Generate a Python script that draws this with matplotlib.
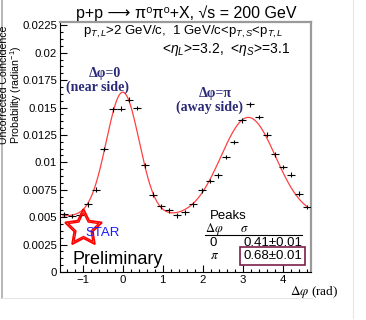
import numpy as np
import matplotlib
matplotlib.use("Agg")
import matplotlib.pyplot as plt
from matplotlib.ticker import AutoMinorLocator, FixedLocator, FixedFormatter

plt.rcParams["font.family"] = ["Liberation Sans", "DejaVu Sans"]
plt.rcParams["mathtext.fontset"] = "custom"
plt.rcParams["mathtext.rm"] = "Liberation Sans"
plt.rcParams["mathtext.it"] = "Liberation Sans:italic"

# measured points (bin centres in rad, coincidence probability)
dphi = [-1.47, -1.27, -1.06, -0.86, -0.66, -0.46, -0.25, -0.05, 0.15, 0.35,
        0.56, 0.76, 0.96, 1.17, 1.37, 1.57, 1.77, 1.98, 2.18, 2.38,
        2.58, 2.79, 2.99, 3.19, 3.40, 3.60, 3.80, 4.00, 4.21, 4.41, 4.61]
prob = [0.00526, 0.00511, 0.00517, 0.00617, 0.00752, 0.01122, 0.01484, 0.01490,
        0.01572, 0.01496, 0.00973, 0.00706, 0.00599, 0.00563, 0.00517, 0.00543,
        0.00617, 0.00745, 0.00830, 0.00882, 0.01049, 0.01186, 0.01384, 0.01530,
        0.01414, 0.01253, 0.01074, 0.00958, 0.00888, 0.00715, 0.00593]
prob_err = [0.00022] * len(prob)
bin_half = 0.1

# fit parameters: constant + gaussian at 0 + gaussian at pi
fit_const = 0.0051
near_amp, near_mu, near_sigma = 0.0113, 0.0, 0.41
away_amp, away_mu, away_sigma = 0.0090, np.pi, 0.68

yticks = [0, 0.0025, 0.005, 0.0075, 0.01, 0.0125, 0.015, 0.0175, 0.02, 0.0225]
ytick_labels = ["0", "0.0025", "0.005", "0.0075", "0.01", "0.0125", "0.015",
                "0.0175", "0.02", "0.0225"]
xticks = [-1, 0, 1, 2, 3, 4]
xtick_labels = ["\u22121", "0", "1", "2", "3", "4"]

W, H = 366, 320
fig = plt.figure(figsize=(W / 100, H / 100), dpi=100)
ax = fig.add_axes([60 / W, 1 - 272 / H, 251 / W, 250 / H])

xf = np.linspace(-1.5, 4.62, 400)
fit = (fit_const
       + near_amp * np.exp(-(xf - near_mu) ** 2 / (2 * near_sigma ** 2))
       + away_amp * np.exp(-(xf - away_mu) ** 2 / (2 * away_sigma ** 2)))
ax.plot(xf, fit, color="#ff4040", lw=0.9, zorder=2)

ax.errorbar(dphi, prob, xerr=bin_half, yerr=prob_err, fmt="none",
            ecolor="black", elinewidth=0.8, capsize=0, zorder=3)

ax.set_xlim(-np.pi / 2, 3 * np.pi / 2)
ax.set_ylim(0, 0.0228)
ax.xaxis.set_major_locator(FixedLocator(xticks))
ax.xaxis.set_major_formatter(FixedFormatter(xtick_labels))
ax.yaxis.set_major_locator(FixedLocator(yticks))
ax.yaxis.set_major_formatter(FixedFormatter(ytick_labels))
ax.xaxis.set_minor_locator(AutoMinorLocator(5))
ax.yaxis.set_minor_locator(AutoMinorLocator(4))
ax.tick_params(which="both", direction="in", labelsize=8.2, width=0.8)
ax.tick_params(which="major", length=5, pad=2)
ax.tick_params(which="minor", length=2.5)
for side in ["top", "right"]:
    ax.spines[side].set_color("#9a9a9a")
    ax.spines[side].set_linewidth(1.6)
for side in ["left", "bottom"]:
    ax.spines[side].set_linewidth(0.8)

# titles and labels
fig.text(186 / W, 1 - 13 / H, "p+p \u27f6 \u03c0\u2070\u03c0\u2070+X, \u221as = 200 GeV",
         ha="center", va="center", fontsize=11.5)
fig.text(183 / W, 1 - 32 / H,
         r"p$_{T,L}$>2 GeV/c,  1 GeV/c<p$_{T,S}$<p$_{T,L}$",
         ha="center", va="center", fontsize=9.5)
fig.text(290 / W, 1 - 50 / H, r"<$\eta_L$>=3.2,  <$\eta_S$>=3.1",
         ha="right", va="center", fontsize=10)

navy = "#2a2a78"
serif = ["Liberation Serif", "DejaVu Serif"]
fig.text(105 / W, 1 - 73 / H, "\u0394\u03c6=0", ha="center", va="center",
         fontsize=10, fontweight="bold", family=serif, color=navy)
fig.text(97 / W, 1 - 87 / H, "(near side)", ha="center", va="center",
         fontsize=10, fontweight="bold", family=serif, color=navy)
fig.text(215 / W, 1 - 93 / H, "\u0394\u03c6=\u03c0", ha="center", va="center",
         fontsize=10, fontweight="bold", family=serif, color=navy)
fig.text(210 / W, 1 - 107 / H, "(away side)", ha="center", va="center",
         fontsize=10, fontweight="bold", family=serif, color=navy)

fig.text(338 / W, 1 - 292 / H, r"$\Delta\varphi$ (rad)", ha="right", va="center",
         fontsize=9.5, family=serif, math_fontfamily="stix")

fig.text(4.5 / W, 1 - 144 / H, "Uncorrected Coincidence", rotation=90,
         ha="center", va="bottom", fontsize=7.6)
fig.text(16 / W, 1 - 144 / H, r"Probability (radian$^{-1}$)", rotation=90,
         ha="center", va="bottom", fontsize=7.6)

# peak width table
fig.text(210 / W, 1 - 216 / H, "Peaks", ha="left", va="center", fontsize=9.5)
fig.text(205 / W, 1 - 229 / H, r"$\Delta\varphi$", ha="left", va="center",
         fontsize=9, math_fontfamily="stix")
fig.text(240 / W, 1 - 229 / H, r"$\sigma$", ha="left", va="center",
         fontsize=9, math_fontfamily="stix")
fig.add_artist(plt.Line2D([205 / W, 302 / W], [1 - 235 / H, 1 - 235 / H],
                          color="black", lw=0.8))
fig.text(210 / W, 1 - 242.5 / H, "0", ha="left", va="center", fontsize=9.5)
fig.text(302 / W, 1 - 242.5 / H, "0.41\u00b10.01", ha="right", va="center",
         fontsize=9.5)
fig.text(210 / W, 1 - 256 / H, r"$\pi$", ha="left", va="center", fontsize=9.5,
         math_fontfamily="stix")
fig.text(302 / W, 1 - 256 / H, "0.68\u00b10.01", ha="right", va="center",
         fontsize=9.5,
         bbox=dict(boxstyle="square,pad=0.2", fc="none", ec="#7a1f4a", lw=1.2))

# STAR logo and preliminary label
star_x, star_y = (83 - 60) / 251, (272 - 228) / 250
ax.plot([star_x], [star_y], marker=(5, 1, 0), markersize=28, mfc="none",
        mec="red", mew=1.3, transform=ax.transAxes, zorder=4)
ax.plot([star_x], [star_y], marker=(5, 1, 0), markersize=23, mfc="none",
        mec="red", mew=1.0, transform=ax.transAxes, zorder=4)
fig.text(85 / W, 1 - 233 / H, "STAR", ha="left", va="center", fontsize=9.5,
         color="#1a1aff")
fig.text(73 / W, 1 - 260 / H, "Preliminary", ha="left", va="center", fontsize=13)

# screenshot frame lines
fig.add_artist(plt.Line2D([1.5 / W, 1.5 / W], [1 - 298 / H, 1], color="#aaaaaa", lw=1.2))
fig.add_artist(plt.Line2D([1.5 / W, 312 / W], [1 - 298 / H, 1 - 298 / H],
                          color="#e6e6e6", lw=0.8))
fig.add_artist(plt.Line2D([353 / W, 353 / W], [1 - 318 / H, 1], color="#e6e6e6", lw=0.8))

fig.savefig("out.png", dpi=100)
